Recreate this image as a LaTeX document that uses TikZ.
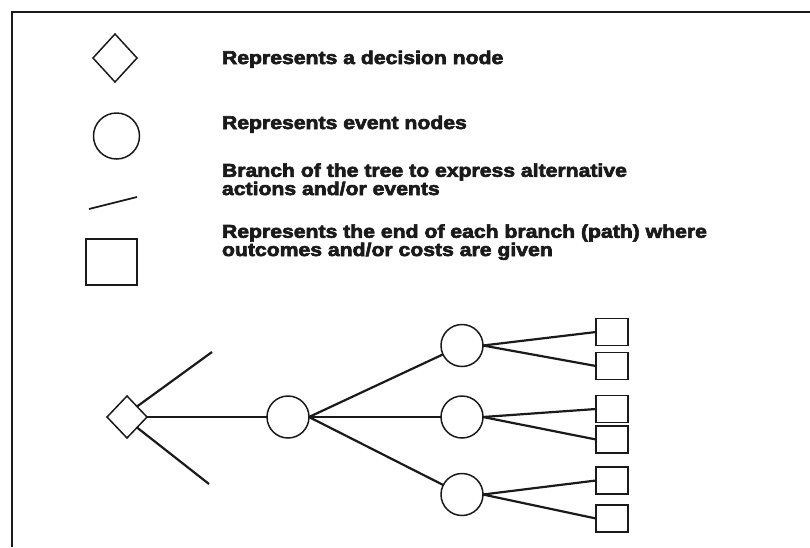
\documentclass[tikz,border=0pt]{standalone}
\usepackage{fontspec}
\setmainfont{Liberation Sans}[FakeStretch=1.145,BoldFeatures={FakeBold=3.5}]
\usetikzlibrary{shapes.geometric,calc}
\definecolor{ink}{HTML}{1A1A1A}
\begin{document}
\begin{tikzpicture}[x=1pt,y=-1pt,
  every node/.style={inner sep=0pt,outer sep=0pt},
  shape line/.style={draw=ink,line width=1.5pt},
  decision/.style={shape line,diamond},
  event/.style={shape line,circle,minimum size=42pt},
  outcome/.style={shape line,rectangle,minimum width=32pt,minimum height=27pt},
  branch/.style={draw=ink,line width=2.2pt},
  legendtext/.style={anchor=base west,align=left,text=ink,
    font=\fontsize{18.5}{15}\selectfont\bfseries}]
\useasboundingbox (0,0) rectangle (810,547);
% open frame: top and left rules
\draw[ink,line width=2.4pt] (810,12) -- (12,12) -- (12,547);

% legend
\node[decision,minimum width=44pt,minimum height=48pt] (lgd) at (115,58) {};
\node[legendtext] (t1) at (222,64) {Represents a decision node};
\node[shape line,circle,minimum size=46pt] (lge) at (116.5,136) {};
\node[legendtext] (t2) at (222,129) {Represents event nodes};
\coordinate (lb1) at (89,209);
\coordinate (lb2) at (137,197);
\draw[branch,line width=1.8pt] (lb1) -- (lb2);
\node[legendtext] (t3) at (222,195) {Branch of the tree to express alternative\\actions and/or events};
\node[shape line,rectangle,minimum width=51pt,minimum height=46pt] (lgo) at (111.5,262) {};
\node[legendtext] (t4) at (222,256) {Represents the end of each branch (path) where\\outcomes and/or costs are given};

% decision tree
\node[decision,minimum width=40pt,minimum height=42pt] (d) at (127,417) {};
\coordinate (up) at (212,352);
\coordinate (dn) at (209,484);
\draw[branch] ($(d.north)!0.5!(d.east)$) -- (up);
\draw[branch] ($(d.south)!0.5!(d.east)$) -- (dn);

\node[event] (m) at (288,417) {};
\node[event] (c1) at (462,345.5) {};
\node[event] (c2) at (462,417) {};
\node[event] (c3) at (462,494.5) {};

\node[outcome] (s1) at (612,332) {};
\node[outcome] (s2) at (612,366) {};
\node[outcome] (s3) at (612,409) {};
\node[outcome] (s4) at (612,439.5) {};
\node[outcome] (s5) at (612,480.5) {};
\node[outcome] (s6) at (612,518.5) {};

\draw[branch] (d.east) -- (m.west);
\draw[branch] (m.east) -- (c1);
\draw[branch] (m.east) -- (c2.west);
\draw[branch] (m.east) -- (c3);
\draw[branch] (c1.east) -- (s1.west);
\draw[branch] (c1.east) -- (s2.west);
\draw[branch] (c2.east) -- (s3.west);
\draw[branch] (c2.east) -- (s4.west);
\draw[branch] (c3.east) -- (s5.west);
\draw[branch] (c3.east) -- (s6.west);
\end{tikzpicture}
\end{document}
